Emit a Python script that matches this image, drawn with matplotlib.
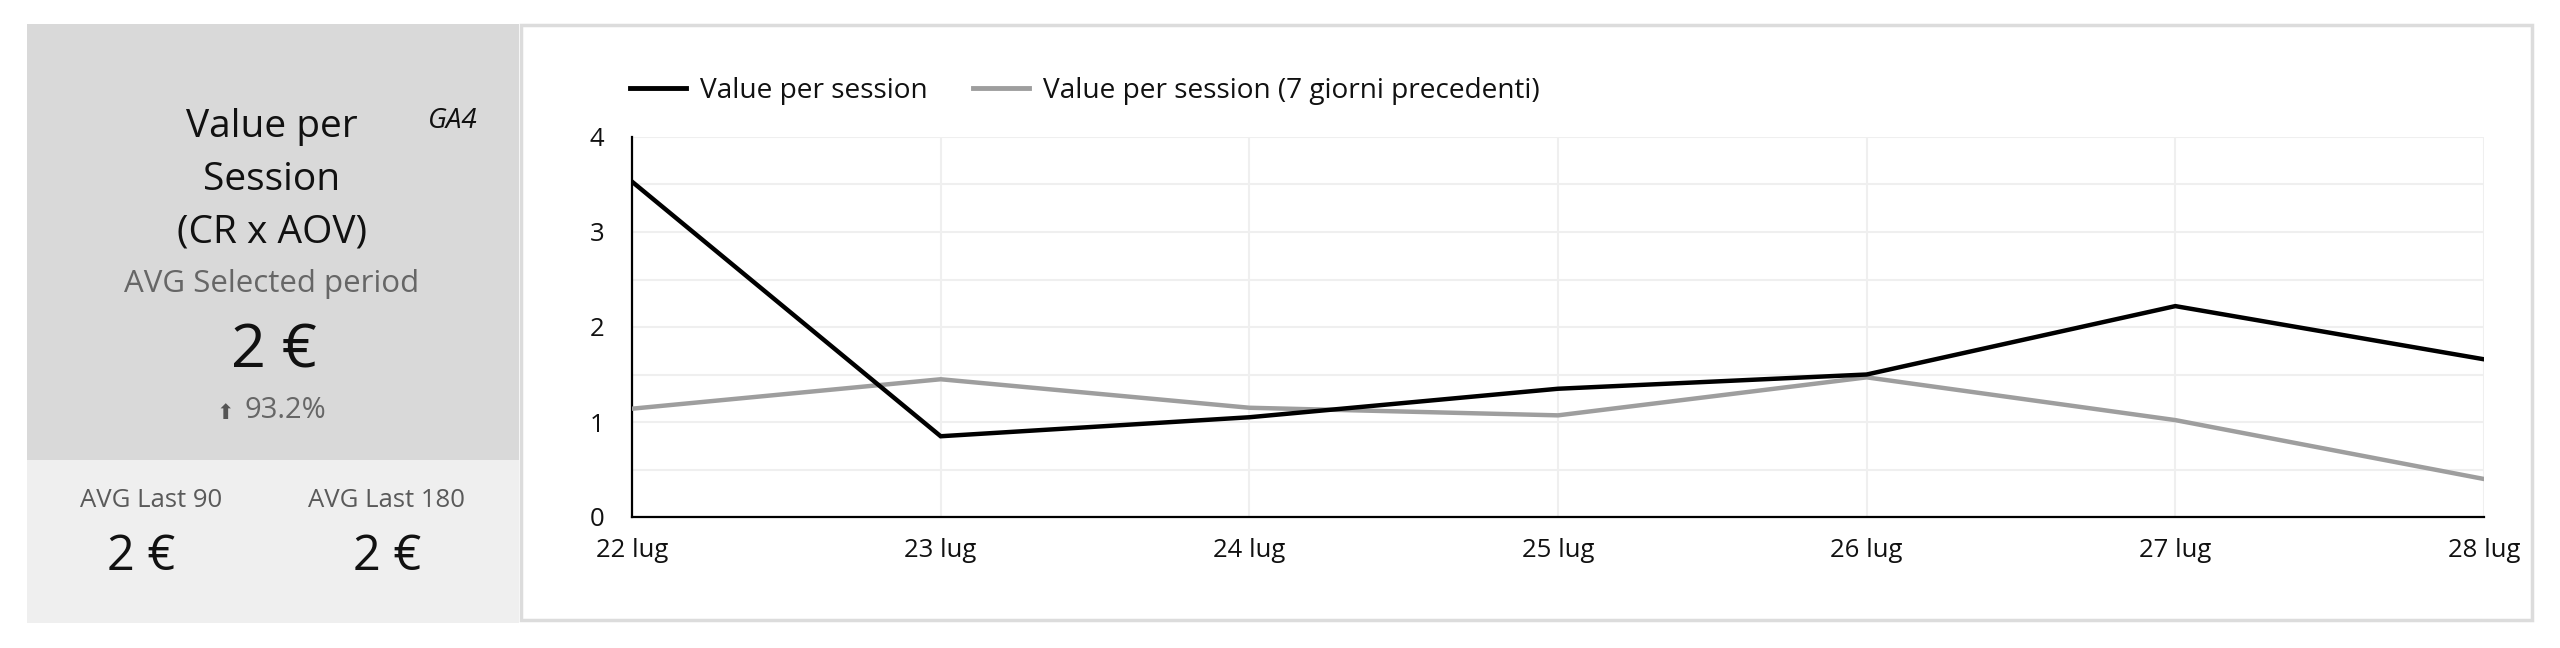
import matplotlib
matplotlib.use("Agg")
import matplotlib.pyplot as plt
from matplotlib.patches import Rectangle
from matplotlib.lines import Line2D

plt.rcParams['font.family'] = ['Open Sans', 'DejaVu Sans']

# ---- data ----
dates = ["22 lug", "23 lug", "24 lug", "25 lug", "26 lug", "27 lug", "28 lug"]
value_current = [3.53, 0.85, 1.05, 1.35, 1.50, 2.22, 1.66]
value_previous = [1.14, 1.45, 1.15, 1.07, 1.47, 1.02, 0.40]
series_names = ["Value per session", "Value per session (7 giorni precedenti)"]
kpi_title = "Value per\nSession\n(CR x AOV)"
kpi_subtitle = "AVG Selected period"
kpi_value = "2 €"
kpi_change = "93.2%"
kpi_tag = "GA4"
side_labels = ["AVG Last 90", "AVG Last 180"]
side_values = ["2 €", "2 €"]
y_ticks = [0, 1, 2, 3, 4]

W, H = 2560, 648
fig = plt.figure(figsize=(W / 100, H / 100), dpi=100)
fig.patch.set_facecolor("white")

def fx(px):
    return px / W

def fy(py):
    return 1 - py / H

# left panel backgrounds
fig.patches.append(Rectangle((fx(27), fy(460)), fx(519) - fx(27), fy(24) - fy(460),
                             transform=fig.transFigure, facecolor="#d9d9d9", edgecolor="none", zorder=-5))
fig.patches.append(Rectangle((fx(27), fy(623)), fx(519) - fx(27), fy(460) - fy(623),
                             transform=fig.transFigure, facecolor="#efefef", edgecolor="none", zorder=-5))
# chart panel border
fig.patches.append(Rectangle((fx(521), fy(620)), fx(2532) - fx(521), fy(25) - fy(620),
                             transform=fig.transFigure, facecolor="white", edgecolor="#dcdcdc",
                             linewidth=2.5, zorder=-5))

# left panel texts
cx = 272
lines = kpi_title.split("\n")
for i, ln in enumerate(lines):
    fig.text(fx(cx), fy(137 + 53 * i), ln, ha="center", va="baseline", fontsize=28, color="#111111")
fig.text(fx(453), fy(128), kpi_tag, ha="center", va="baseline", fontsize=20, style="italic", color="#111111")
fig.text(fx(cx), fy(292), kpi_subtitle, ha="center", va="baseline", fontsize=22.5, color="#666666")
fig.text(fx(274), fy(367), kpi_value, ha="center", va="baseline", fontsize=44, color="#111111")
fig.text(fx(225), fy(419), "⬆", ha="center", va="baseline", fontsize=15, color="#555555",
         family=["DejaVu Sans"])
fig.text(fx(245), fy(418), kpi_change, ha="left", va="baseline", fontsize=21, color="#666666")
for lx, lab in zip([151, 387], side_labels):
    fig.text(fx(lx), fy(507), lab, ha="center", va="baseline", fontsize=18.5, color="#5a5a5a")
for vx, val in zip([141, 387], side_values):
    fig.text(fx(vx), fy(570), val, ha="center", va="baseline", fontsize=35, color="#111111")

# chart axes
x0, x1, ytop, ybot = 632, 2484, 137, 517
ax = fig.add_axes([fx(x0), fy(ybot), fx(x1) - fx(x0), fy(ytop) - fy(ybot)])
ax.set_facecolor("white")
xs = list(range(len(dates)))
ax.plot(xs, value_previous, color="#9e9e9e", linewidth=3.2, solid_joinstyle="miter", zorder=3)
ax.plot(xs, value_current, color="#000000", linewidth=3.2, solid_joinstyle="miter", zorder=4)
ax.set_xlim(0, len(dates) - 1)
ax.set_ylim(0, 4)
ax.set_xticks(xs)
ax.set_xticklabels(dates)
ax.set_yticks(y_ticks)
ax.set_yticks([0.5, 1.5, 2.5, 3.5], minor=True)
ax.grid(True, which="both", color="#efefef", linewidth=1.5, zorder=0)
ax.set_axisbelow(True)
for s in ["top", "right"]:
    ax.spines[s].set_visible(False)
ax.spines["left"].set_color("#000000")
ax.spines["bottom"].set_color("#000000")
ax.spines["left"].set_linewidth(1.6)
ax.spines["bottom"].set_linewidth(1.6)
ax.tick_params(axis="both", which="both", length=0, labelsize=18.5, colors="#111111")
ax.tick_params(axis="y", pad=20)
ax.tick_params(axis="x", pad=15)

handles = [Line2D([], [], color="#000000", linewidth=3.5),
           Line2D([], [], color="#9e9e9e", linewidth=3.5)]
fig.legend(handles, series_names, loc="center left", bbox_to_anchor=(fx(630), fy(91)),
           ncol=2, frameon=False, fontsize=20.2, handlelength=2.0, handletextpad=0.5,
           columnspacing=1.6, borderaxespad=0, borderpad=0, labelcolor="#111111")

fig.savefig("out.png", dpi=100, facecolor="white")
